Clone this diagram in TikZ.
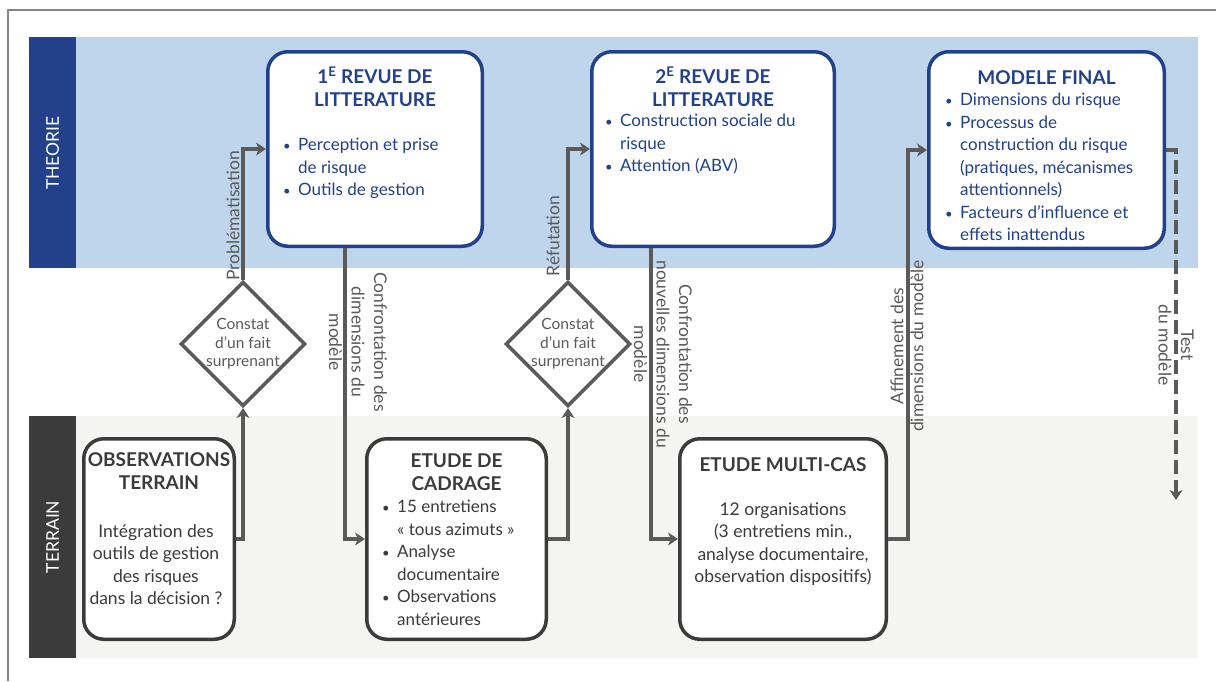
\documentclass[tikz,border=0pt]{standalone}
\usepackage{fontspec}
\setmainfont{Lato}
\usetikzlibrary{arrows.meta,shapes.geometric,positioning}

\definecolor{bleufonce}{HTML}{22418A}
\definecolor{bleuclair}{HTML}{BFD5EC}
\definecolor{grisfonce}{HTML}{3B3B3B}
\definecolor{grisfleche}{HTML}{5A5A5A}
\definecolor{grisclair}{HTML}{F4F4F2}
\definecolor{griscadre}{HTML}{848484}

% puce et retrait des lignes de suite
\newcommand{\puce}{\makebox[16pt][l]{\hspace{1pt}{\fontsize{13}{13}\selectfont\textbullet}}}
\newcommand{\suite}{\hspace*{16pt}}

\tikzset{
	theobox/.style={draw=bleufonce, line width=3.5pt, rounded corners=20pt, fill=white, inner sep=0pt},
	terrbox/.style={draw=grisfonce, line width=3.5pt, rounded corners=20pt, fill=white, inner sep=0pt},
	losange/.style={diamond, draw=grisfleche, line width=3.5pt, fill=white, inner sep=0pt, minimum width=124pt, minimum height=112pt, text=grisfleche, align=center, font=\fontsize{15.5}{18.5}\selectfont},
	flow/.style={draw=grisfleche, line width=3.5pt, -{Stealth[length=10pt,width=13pt,inset=3pt]}},
	lbl/.style={text=grisfleche, inner sep=0pt, align=center, font=\fontsize{17.5}{22.5}\selectfont},
	titre/.style={inner sep=0pt, align=center, font=\fontsize{19}{23}\selectfont\bfseries},
	corps/.style={inner sep=0pt, align=center, anchor=north, text=grisfonce, font=\fontsize{17.5}{22.5}\selectfont},
	liste/.style={inner sep=0pt, align=left, anchor=north west, font=\fontsize{17}{22.5}\selectfont},
	bande/.style={text=white, rotate=90, font=\fontsize{17.5}{18}\selectfont}
}

\begin{document}
\begin{tikzpicture}[x=1pt, y=-1pt]
		%%%%% START %%%%%
		\useasboundingbox (0,0) rectangle (1216,681);
		\draw[griscadre, line width=1.5pt] (8,681) -- (8,10) -- (1216,10);
		
		% bandes
		\fill[bleuclair] (29,37) rectangle (1198,268);
		\fill[bleufonce] (29,37) rectangle (76,268);
		\fill[grisclair] (29,416) rectangle (1198,658);
		\fill[grisfonce] (29,416) rectangle (76,658);
		\node[bande] (ltheorie) at (52.5,153) {THEORIE};
		\node[bande] (lterrain) at (52.5,537) {TERRAIN};
		
		% theorie
		\node[theobox, minimum width=214.5pt, minimum height=194.5pt] (revue1) at (375,149) {};
		\node[titre, text=bleufonce, anchor=north] (revue1t) at ([yshift=-17pt]revue1.north) {1\textsuperscript{E} REVUE DE\\LITTERATURE};
		\node[liste, text=bleufonce] (revue1l) at ([xshift=16pt,yshift=-88pt]revue1.north west) {\puce Perception et prise\\\suite de risque\\\puce Outils de gestion};
		
		\node[theobox, minimum width=242.5pt, minimum height=194.5pt] (revue2) at (713,149) {};
		\node[titre, text=bleufonce, anchor=north] (revue2t) at ([yshift=-17pt]revue2.north) {2\textsuperscript{E} REVUE DE\\LITTERATURE};
		\node[liste, text=bleufonce] (revue2l) at ([xshift=14pt,yshift=-64pt]revue2.north west) {\puce Construction sociale du\\\suite risque\\\puce Attention (ABV)};
		
		\node[theobox, minimum width=235.5pt, minimum height=196.5pt] (final) at (1046.5,150) {};
		\node[titre, text=bleufonce, anchor=north] (finalt) at ([yshift=-20pt]final.north) {MODELE FINAL};
		\node[liste, text=bleufonce] (finall) at ([xshift=17pt,yshift=-43pt]final.north west) {\puce Dimensions du risque\\\puce Processus de\\\suite construction du risque\\\suite (pratiques, mécanismes\\\suite attentionnels)\\\puce Facteurs d’influence et\\\suite effets inattendus};
		
		% terrain
		\node[terrbox, minimum width=150.5pt, minimum height=200.5pt] (obs) at (159,539) {};
		\node[titre, text=grisfonce, anchor=north] (obst) at ([yshift=-15pt]obs.north) {OBSERVATIONS\\TERRAIN};
		\node[corps] (obsl) at ([xshift=-3pt,yshift=-87pt]obs.north) {Intégration des\\outils de gestion\\des risques\\dans la décision ?};
		
		\node[terrbox, minimum width=179.5pt, minimum height=200.5pt] (cadrage) at (456.5,539) {};
		\node[titre, text=grisfonce, anchor=north] (cadraget) at ([yshift=-17pt]cadrage.north) {ETUDE DE\\CADRAGE};
		\node[liste, text=grisfonce] (cadragel) at ([xshift=16pt,yshift=-63pt]cadrage.north west) {\puce 15 entretiens\\\suite «~tous azimuts~»\\\puce Analyse\\\suite documentaire\\\puce Observations\\\suite antérieures};
		
		\node[terrbox, minimum width=206.5pt, minimum height=200.5pt] (multi) at (783,539) {};
		\node[titre, text=grisfonce, anchor=north] (multit) at ([yshift=-20pt]multi.north) {ETUDE MULTI-CAS};
		\node[corps] (multil) at ([yshift=-65pt]multi.north) {12 organisations\\(3 entretiens min.,\\analyse documentaire,\\observation dispositifs)};
		
		% constats
		\node[losange] (constat1) at (243,344) {Constat\\d’un fait\\surprenant};
		\node[losange] (constat2) at (568,344) {Constat\\d’un fait\\surprenant};
		
		% fleches
		\coordinate (fintest) at (1176,500);
		\draw[flow] (obs.east) -| (constat1.south);
		\draw[flow] (constat1.north) |- (revue1.west);
		\draw[flow] ([xshift=-30pt]revue1.south) |- (cadrage.west);
		\draw[flow] (cadrage.east) -| (constat2.south);
		\draw[flow] (constat2.north) |- (revue2.west);
		\draw[flow] ([xshift=-62pt]revue2.south) |- (multi.west);
		\draw[flow] (multi.east) -- ++(20,0) |- (final.west);
		\draw[flow, dash pattern=on 14pt off 6pt] (final.east) -| (fintest);
		
		% etiquettes
		\node[lbl, rotate=90] (lprob) at (233,216) {Problématisation};
		\node[lbl, rotate=90] (lrefut) at (553,236) {Réfutation};
		\node[lbl, rotate=-90] (lconf1) at (358,342) {Confrontation des\\dimensions du\\modèle};
		\node[lbl, rotate=-90] (lconf2) at (663,354) {Confrontation des\\nouvelles dimensions du\\modèle};
		\node[lbl, rotate=90, font=\fontsize{17.5}{20}\selectfont] (laffin) at (907,346) {Affinement des\\dimensions du modèle};
		\node[lbl, rotate=-90] (ltest) at (1176,345) {Test\\du modèle};
		%%%%% END %%%%%
\end{tikzpicture}
\end{document}
